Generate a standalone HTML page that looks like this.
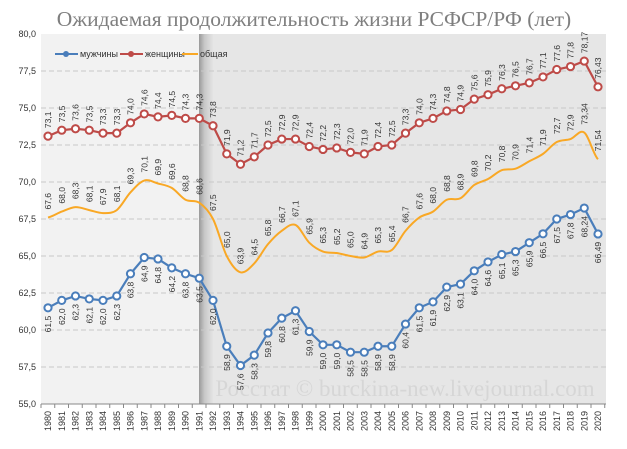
<!DOCTYPE html>
<html><head><meta charset="utf-8">
<style>
html,body{margin:0;padding:0;background:#fff;}
svg{display:block;font-family:"Liberation Sans",sans-serif;}
</style></head>
<body>
<svg id="s" width="627" height="449" viewBox="0 0 627 449" xmlns="http://www.w3.org/2000/svg">
<defs>
<linearGradient id="band" x1="0" x2="1" y1="0" y2="0">
<stop offset="0" stop-color="#9a9a9a"/><stop offset="0.4" stop-color="#c8c8c8"/><stop offset="1" stop-color="#e4e4e4"/>
</linearGradient>
</defs>
<rect x="41" y="34" width="158" height="370" fill="#f2f2f2"/>
<rect x="199" y="34" width="407" height="370" fill="#e6e6e6"/>
<rect x="199" y="34" width="14" height="370" fill="url(#band)"/>
<text x="314" y="26" text-anchor="middle" font-family="Liberation Serif,serif" font-size="21.5" fill="#7f7f7f">Ожидаемая продолжительность жизни РСФСР/РФ (лет)</text>
<text x="405" y="396" text-anchor="middle" font-family="Liberation Serif,serif" font-size="23" fill="#d6d6d6">Росстат © burckina-new.livejournal.com</text>
<g id="g"></g>
<g font-size="9" fill="#333">
<line x1="55" y1="54" x2="78" y2="54" stroke="#4a7ebb" stroke-width="2"/><circle cx="66" cy="54" r="3" fill="#4a7ebb"/>
<text x="80" y="57">мужчины</text>
<line x1="120" y1="54" x2="143" y2="54" stroke="#be4b48" stroke-width="2"/><circle cx="131" cy="54" r="3" fill="#be4b48"/>
<text x="145" y="57">женщины</text>
<line x1="182" y1="54" x2="198" y2="54" stroke="#f9a825" stroke-width="2"/>
<text x="200" y="57">общая</text>
</g>
</svg>
<script>
const men=[61.5,62.0,62.3,62.1,62.0,62.3,63.8,64.9,64.8,64.2,63.8,63.5,62.0,58.9,57.6,58.3,59.8,60.8,61.3,59.9,59.0,59.0,58.5,58.5,58.9,58.9,60.4,61.5,61.9,62.9,63.1,64.0,64.6,65.1,65.3,65.9,66.5,67.5,67.8,68.24,66.49];
const wom=[73.1,73.5,73.6,73.5,73.3,73.3,74.0,74.6,74.4,74.5,74.3,74.3,73.8,71.9,71.2,71.7,72.5,72.9,72.9,72.4,72.2,72.3,72.0,71.9,72.4,72.5,73.3,74.0,74.3,74.8,74.9,75.6,75.9,76.3,76.5,76.7,77.1,77.6,77.8,78.17,76.43];
const tot=[67.6,68.0,68.3,68.1,67.9,68.1,69.3,70.1,69.9,69.6,68.8,68.6,67.5,65.0,63.9,64.5,65.8,66.7,67.1,65.9,65.3,65.2,65.0,64.9,65.3,65.4,66.7,67.6,68.0,68.8,68.9,69.8,70.2,70.8,70.9,71.4,71.9,72.7,72.9,73.34,71.54];
const X=i=>48+i*13.75, Y=v=>34+(80-v)*14.8;
let h='';
for(let k=0;k<=10;k++){const v=55+k*2.5,y=Y(v);
 if(k>0&&k<10)h+=`<line x1="41" x2="606" y1="${y}" y2="${y}" stroke="#c8c8c8" stroke-dasharray="5,3"/>`;
 h+=`<text x="36" y="${y+3}" text-anchor="end" font-size="9" fill="#333">${v.toFixed(1).replace('.',',')}</text>`;}
h+=`<line x1="41" x2="606" y1="404" y2="404" stroke="#888"/>`;
for(let i=0;i<=41;i++){const x=41+i*13.75;h+=`<line x1="${x}" x2="${x}" y1="404" y2="408" stroke="#888"/>`;}
for(let i=0;i<41;i++){const x=X(i);h+=`<text transform="translate(${x+3},411) rotate(-90)" text-anchor="end" font-size="9" fill="#333">${1980+i}</text>`;}
const fmt=v=>(Math.round(v*100)%10==0?v.toFixed(1):v.toFixed(2)).replace('.',',');
function path(d,smooth){let p='';d.forEach((v,i)=>{const x=X(i),y=Y(v);
 if(i==0)p+=`M${x},${y}`;else if(smooth){const x0=X(i-1),y0=Y(d[i-1]);const pm=d[i-2]!==undefined?Y(d[i-2]):y0,nn=d[i+1]!==undefined?Y(d[i+1]):y;
 p+=`C${x0+4.6},${y0+(y-pm)/6} ${x-4.6},${y-(nn-y0)/6} ${x},${y}`;}else p+=`L${x},${y}`;});return p;}
h+=`<path d="${path(tot,true)}" fill="none" stroke="#f9a825" stroke-width="2"/>`;
h+=`<path d="${path(wom)}" fill="none" stroke="#be4b48" stroke-width="2.2"/>`;
h+=`<path d="${path(men)}" fill="none" stroke="#4a7ebb" stroke-width="2.2"/>`;
wom.forEach((v,i)=>{h+=`<circle cx="${X(i)}" cy="${Y(v)}" r="3.6" fill="#fff" stroke="#be4b48" stroke-width="2"/>`;
 h+=`<text transform="translate(${X(i)+3},${Y(v)-8}) rotate(-90)" font-size="8.5" fill="#333">${fmt(v)}</text>`;});
men.forEach((v,i)=>{h+=`<circle cx="${X(i)}" cy="${Y(v)}" r="3.6" fill="#fff" stroke="#4a7ebb" stroke-width="2"/>`;
 h+=`<text transform="translate(${X(i)+3},${Y(v)+8}) rotate(-90)" text-anchor="end" font-size="8.5" fill="#333">${fmt(v)}</text>`;});
tot.forEach((v,i)=>{h+=`<text transform="translate(${X(i)+3},${Y(v)-8}) rotate(-90)" font-size="8.5" fill="#333">${fmt(v)}</text>`;});
document.getElementById('g').innerHTML=h;
</script>
</body></html>
